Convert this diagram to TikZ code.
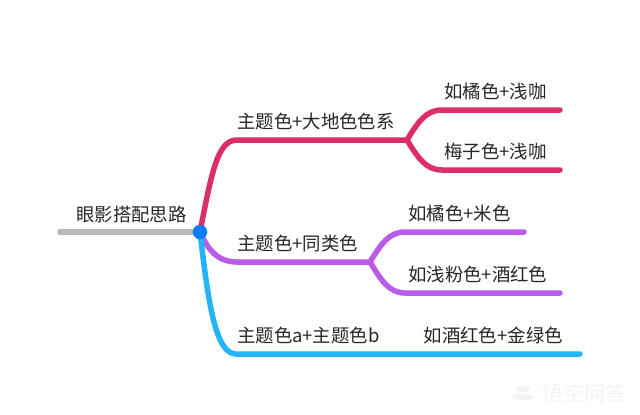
\documentclass[tikz,border=0pt]{standalone}
\usepackage{fontspec}
\setmainfont{Noto Sans CJK SC}
\usetikzlibrary{positioning}
\definecolor{rosebr}{HTML}{DC2F66}
\definecolor{purplebr}{HTML}{B95CEA}
\definecolor{skybr}{HTML}{25B4F5}
\definecolor{rootbr}{HTML}{B9B9B9}
\definecolor{hubdot}{HTML}{0A7CF5}
\definecolor{inkgrey}{HTML}{262626}
\definecolor{markgrey}{HTML}{F3F3F3}
\tikzset{branch/.style={line width=5.5pt,line cap=round},
  lbl/.style={inner sep=0pt,font=\fontsize{18.4}{20}\selectfont,text=inkgrey,text height=14pt,text depth=2pt},
  hub/.style={circle,fill=hubdot,inner sep=0pt,minimum size=14.5pt},
  wmark/.style={inner sep=0pt,font=\fontsize{21}{24}\selectfont,text=markgrey}}

\begin{document}
\begin{tikzpicture}[x=1pt,y=-1pt]
              \useasboundingbox (0,0) rectangle (640,415);

              \coordinate (hubc) at (200,232);
              \coordinate (rootend) at (60,232);

              \coordinate (rose) at (237,140);
              \coordinate (rosefork) at (407,140);
              \coordinate (rosea) at (442,110);
              \coordinate (roseaend) at (560,110);
              \coordinate (roseb) at (442,170);
              \coordinate (rosebend) at (560,170);

              \coordinate (purple) at (237,262);
              \coordinate (purplefork) at (370,262);
              \coordinate (purplea) at (405,232);
              \coordinate (purpleaend) at (524,232);
              \coordinate (purpleb) at (405,293);
              \coordinate (purplebend) at (560,293);

              \coordinate (sky) at (236,354);
              \coordinate (skyend) at (580,354);

              \path[branch,rootbr] (rootend) edge (hubc);

              \draw[branch,rosebr] (hubc) .. controls (212,170) and (218,140) .. (rose) -- (rosefork);
              \draw[branch,rosebr] (rosefork) .. controls (418,122) and (426,110) .. (rosea) -- (roseaend);
              \draw[branch,rosebr] (rosefork) .. controls (418,158) and (426,170) .. (roseb) -- (rosebend);

              \draw[branch,purplebr] (hubc) .. controls (208,250) and (218,262) .. (purple) -- (purplefork);
              \draw[branch,purplebr] (purplefork) .. controls (381,244) and (389,232) .. (purplea) -- (purpleaend);
              \draw[branch,purplebr] (purplefork) .. controls (381,280) and (389,293) .. (purpleb) -- (purplebend);

              \draw[branch,skybr] (hubc) .. controls (208,300) and (215,354) .. (sky) -- (skyend);

              \node[hub] (hubn) at (hubc) {};

              \node[lbl] (root) [above right=8pt and 16pt of rootend] {眼影搭配思路};
              \node[lbl] (rosel) [above right=9pt and 0pt of rose] {主题色+大地色色系};
              \node[lbl] (roseal) [above right=9pt and 2pt of rosea] {如橘色+浅咖};
              \node[lbl] (rosebl) [above right=9pt and 2pt of roseb] {梅子色+浅咖};
              \node[lbl] (purplel) [above right=9pt and 0pt of purple] {主题色+同类色};
              \node[lbl] (purpleal) [above right=9pt and 3pt of purplea] {如橘色+米色};
              \node[lbl] (purplebl) [above right=9pt and 3pt of purpleb] {如浅粉色+酒红色};
              \node[lbl] (skyl) [above right=9pt and 1pt of sky] {主题色a+主题色b};
              \node[lbl] (skyel) [above left=9pt and 17pt of skyend] {如酒红色+金绿色};

              \node[wmark] (wmk) at (584,393) {悟空问答};
              \fill[markgrey] (523,389) ellipse (7pt and 3pt);
              \fill[markgrey] (523,397) ellipse (11pt and 3pt);
\end{tikzpicture}
\end{document}
